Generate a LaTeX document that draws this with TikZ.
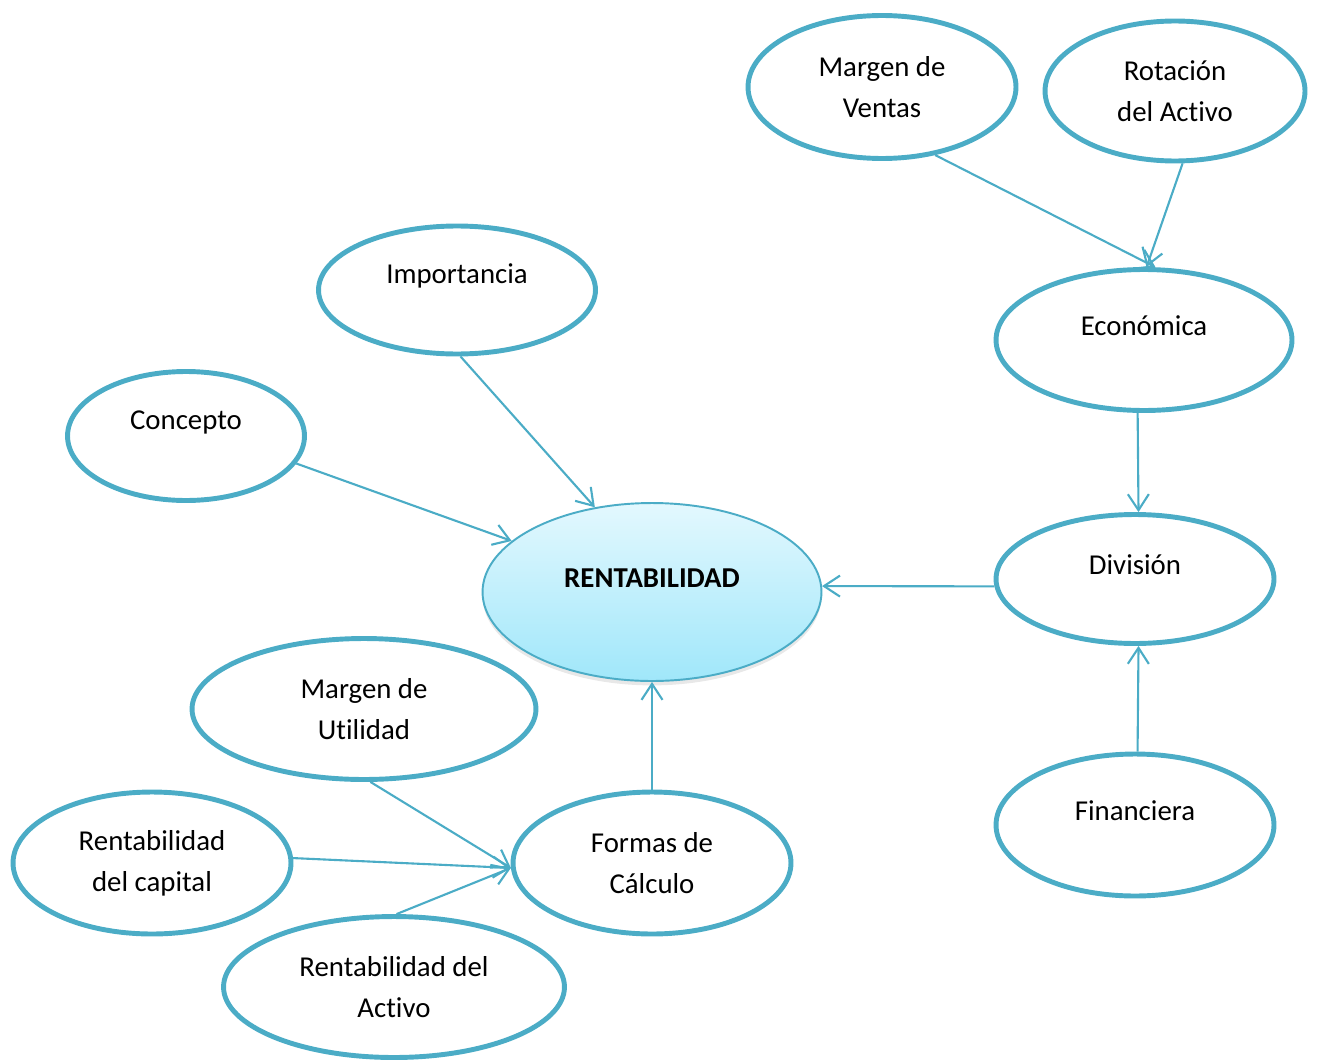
\documentclass[tikz,border=0pt]{standalone}
\usepackage{fontspec}
\setmainfont{Carlito}[Ligatures=NoCommon]
\usetikzlibrary{shapes.geometric,arrows.meta,shadows}
\definecolor{borde}{HTML}{4BACC6}
\definecolor{celesteA}{HTML}{E3F8FE}
\definecolor{celesteB}{HTML}{A0E7FA}
\tikzset{
  burbuja/.style={ellipse,draw=borde,line width=2.8pt,inner sep=0pt,
    font=\fontsize{16.4}{23.3}\selectfont,align=center},
  texto/.style={font=\fontsize{16.4}{23.3}\selectfont,align=center},
  flecha/.style={draw=borde,line width=1.2pt,-{Straight Barb[length=3.2mm,width=4.2mm]}}
}
\begin{document}
\begin{tikzpicture}[x=0.02cm,y=-0.02cm]
	\useasboundingbox (0,0) rectangle (1317,1061);
	% centro
	\node[ellipse,draw=borde,line width=1.1pt,top color=celesteA,bottom color=celesteB,
	  minimum width=6.78cm,minimum height=3.56cm,
	  drop shadow={shadow xshift=0pt,shadow yshift=-2.5pt,opacity=0.18}] (rent) at (652,592) {};
	\node[texto,font=\fontsize{16.4}{23.3}\selectfont\bfseries] (rentt) at ([yshift=0.28cm]rent.center) {RENTABILIDAD};
	% ramas
	\node[burbuja,minimum width=5.36cm,minimum height=2.86cm] (mv) at (882,87) {Margen de\\Ventas};
	\node[burbuja,minimum width=5.2cm,minimum height=2.8cm] (rot) at (1175,91) {Rotación\\del Activo};
	\node[burbuja,minimum width=5.54cm,minimum height=2.56cm] (imp) at (457,290) {};
	\node[texto] (impt) at ([yshift=0.28cm]imp.center) {Importancia};
	\node[burbuja,minimum width=5.92cm,minimum height=2.82cm] (eco) at (1144,340) {};
	\node[texto] (ecot) at ([yshift=0.28cm]eco.center) {Económica};
	\node[burbuja,minimum width=4.74cm,minimum height=2.58cm] (con) at (186,436) {};
	\node[texto] (cont) at ([yshift=0.28cm]con.center) {Concepto};
	\node[burbuja,minimum width=5.56cm,minimum height=2.58cm] (div) at (1135,579) {};
	\node[texto] (divt) at ([yshift=0.28cm]div.center) {División};
	\node[burbuja,minimum width=6.88cm,minimum height=2.82cm] (mu) at (364,709) {Margen de\\Utilidad};
	\node[burbuja,minimum width=5.56cm,minimum height=2.84cm] (fc) at (652,863) {Formas de\\Cálculo};
	\node[burbuja,minimum width=5.56cm,minimum height=2.84cm] (fin) at (1135,825) {};
	\node[texto] (fint) at ([yshift=0.28cm]fin.center) {Financiera};
	\node[burbuja,minimum width=5.56cm,minimum height=2.84cm] (rc) at (152,863) {Rentabilidad\\del capital};
	\node[burbuja,minimum width=6.82cm,minimum height=2.82cm] (ra) at (394,987) {Rentabilidad del\\Activo};
	% flechas
	\draw[flecha] (mv.-52) -- (eco.81);
	\draw[flecha] (rot.-84) -- (eco.88);
	\draw[flecha] (imp.-87) -- (rent.124);
	\draw[flecha] (con.-14) -- (rent.160);
	\draw[flecha] (eco.-95) -- (div.87);
	\draw[flecha] (div.183) -- (rent.2.5);
	\draw[flecha] (fin.88) -- (div.-87);
	\draw[flecha] (fc.north) -- (rent.south);
	\draw[flecha] (mu.-85) -- (fc.182);
	\draw[flecha] (rc.2) -- (fc.182);
	\draw[flecha] (ra.88) -- (fc.182);
\end{tikzpicture}
\end{document}
